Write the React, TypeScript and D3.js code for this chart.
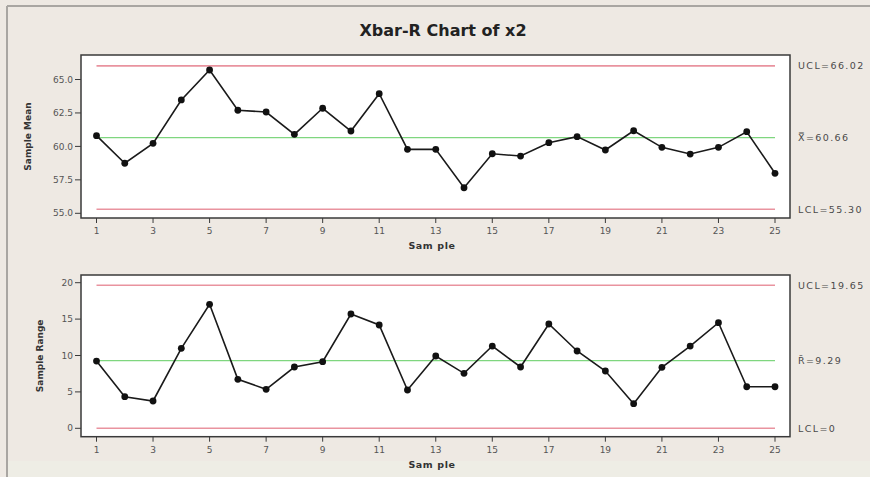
import React from "react";
import * as d3 from "d3";

// Subgroup means and ranges for samples 1..25
const samples = d3.range(1, 26);
const means = [
  60.8, 58.74, 60.23, 63.47, 65.71, 62.7, 62.57, 60.9, 62.85, 61.15, 63.94, 59.78, 59.78,
  56.91, 59.45, 59.28, 60.28, 60.73, 59.73, 61.17, 59.93, 59.43, 59.93, 61.1, 57.99,
];
const ranges = [
  9.24, 4.34, 3.75, 10.99, 17.03, 6.73, 5.36, 8.42, 9.15, 15.7, 14.19, 5.26, 9.93, 7.55,
  11.3, 8.42, 14.33, 10.62, 7.87, 3.38, 8.38, 11.3, 14.51, 5.71, 5.71,
];
const meanLimits = { ucl: 66.02, center: 60.66, lcl: 55.3 };
const rangeLimits = { ucl: 19.65, center: 9.29, lcl: 0 };
const meanTicks = [55, 57.5, 60, 62.5, 65];
const rangeTicks = [0, 5, 10, 15, 20];
const sampleTicks = d3.range(1, 26, 2);

const W = 870;
const H = 477;
const BG = "#eee9e3";
const FONT = "'DejaVu Sans', Verdana, sans-serif";

type PanelProps = {
  top: number;
  bottom: number;
  values: number[];
  yDomain: [number, number];
  yRange: [number, number];
  ticks: number[];
  tickFmt: (v: number) => string;
  limits: { ucl: number; center: number; lcl: number };
  yTitle: string;
  yTitleX: number;
  labels: { ucl: string; center: string; centerSym: string; lcl: string };
};

const left = 81;
const right = 790;
const x = d3.scaleLinear().domain([1, 25]).range([96.5, 775]);

function Panel(p: PanelProps) {
  const y = d3.scaleLinear().domain(p.yDomain).range(p.yRange);
  const line = d3
    .line<number>()
    .x((_, i) => x(samples[i]))
    .y((v) => y(v));
  const x0 = x(1);
  const x1 = x(25);
  const labelX = 798;
  const labelStyle = {
    fontFamily: FONT,
    fontSize: 9.5,
    fill: "#4a4a4a",
    letterSpacing: 1.4,
  } as const;
  return (
    <g>
      <rect x={left} y={p.top} width={right - left} height={p.bottom - p.top} fill="#fff" />
      {/* control limits */}
      <line x1={x0} x2={x1} y1={y(p.limits.ucl)} y2={y(p.limits.ucl)} stroke="#e9939f" strokeWidth={1.6} />
      <line x1={x0} x2={x1} y1={y(p.limits.lcl)} y2={y(p.limits.lcl)} stroke="#e9939f" strokeWidth={1.6} />
      <line x1={x0} x2={x1} y1={y(p.limits.center)} y2={y(p.limits.center)} stroke="#7fd67f" strokeWidth={1.3} />
      {/* data */}
      <path d={line(p.values) ?? ""} fill="none" stroke="#1a1a1a" strokeWidth={1.6} />
      {p.values.map((v, i) => (
        <circle key={i} cx={x(samples[i])} cy={y(v)} r={3.4} fill="#111" />
      ))}
      {/* frame */}
      <rect
        x={left}
        y={p.top}
        width={right - left}
        height={p.bottom - p.top}
        fill="none"
        stroke="#3a3a3a"
        strokeWidth={1.5}
      />
      {/* y axis */}
      {p.ticks.map((t) => (
        <g key={t}>
          <line x1={left - 6} x2={left} y1={y(t)} y2={y(t)} stroke="#3a3a3a" strokeWidth={1} />
          <text
            x={left - 8}
            y={y(t)}
            dy="0.35em"
            textAnchor="end"
            fontFamily={FONT}
            fontSize={9}
            fill="#555"
          >
            {p.tickFmt(t)}
          </text>
        </g>
      ))}
      <text
        transform={`translate(${p.yTitleX},${(p.top + p.bottom) / 2}) rotate(-90)`}
        textAnchor="middle"
        dy="0.35em"
        fontFamily={FONT}
        fontSize={9}
        fontWeight="bold"
        fill="#333"
      >
        {p.yTitle}
      </text>
      {/* x axis */}
      {sampleTicks.map((t) => (
        <g key={t}>
          <line x1={x(t)} x2={x(t)} y1={p.bottom} y2={p.bottom + 5} stroke="#3a3a3a" strokeWidth={1} />
          <text
            x={x(t)}
            y={p.bottom + 13}
            dy="0.35em"
            textAnchor="middle"
            fontFamily={FONT}
            fontSize={9}
            fill="#555"
          >
            {t}
          </text>
        </g>
      ))}
      <text
        x={432}
        y={p.bottom + 28}
        dy="0.35em"
        textAnchor="middle"
        fontFamily={FONT}
        fontSize={9.5}
        fontWeight="bold"
        fill="#333"
        letterSpacing={0.6}
      >
        Sam ple
      </text>
      {/* limit labels */}
      <text x={labelX} y={y(p.limits.ucl)} dy="0.35em" {...labelStyle}>
        {p.labels.ucl}
      </text>
      <text x={labelX} y={y(p.limits.center)} dy="0.35em" {...labelStyle}>
        {p.labels.centerSym + p.labels.center}
      </text>
      <text x={labelX} y={y(p.limits.lcl)} dy="0.35em" {...labelStyle}>
        {p.labels.lcl}
      </text>
    </g>
  );
}

export default function App() {
  return (
    <div style={{ position: "fixed", left: 0, top: 0 }}>
      <svg width={W} height={H} style={{ display: "block" }}>
        <rect width={W} height={H} fill={BG} />
        <rect x={7} y={H - 16} width={W - 7} height={16} fill="#eeede5" />
        <line x1={7} x2={W} y1={6} y2={6} stroke="#a9a6a2" strokeWidth={2} />
        <line x1={7} x2={7} y1={6} y2={H} stroke="#a9a6a2" strokeWidth={2} />
        <text
          x={443}
          y={30}
          dy="0.35em"
          textAnchor="middle"
          fontFamily={FONT}
          fontSize={16}
          fontWeight="bold"
          fill="#222"
        >
          Xbar-R Chart of x2
        </text>
        <Panel
          top={55}
          bottom={218}
          values={means}
          yDomain={[55, 65]}
          yRange={[213.3, 79.5]}
          ticks={meanTicks}
          tickFmt={d3.format(".1f")}
          limits={meanLimits}
          yTitle="Sample Mean"
          yTitleX={28}
          labels={{ ucl: "UCL=66.02", center: "=60.66", centerSym: "X\u033F", lcl: "LCL=55.30" }}
        />
        <Panel
          top={275}
          bottom={436.7}
          values={ranges}
          yDomain={[0, 20]}
          yRange={[428.3, 282.7]}
          ticks={rangeTicks}
          tickFmt={d3.format("d")}
          limits={rangeLimits}
          yTitle="Sample Range"
          yTitleX={40}
          labels={{ ucl: "UCL=19.65", center: "=9.29", centerSym: "R\u0304", lcl: "LCL=0" }}
        />
      </svg>
    </div>
  );
}
